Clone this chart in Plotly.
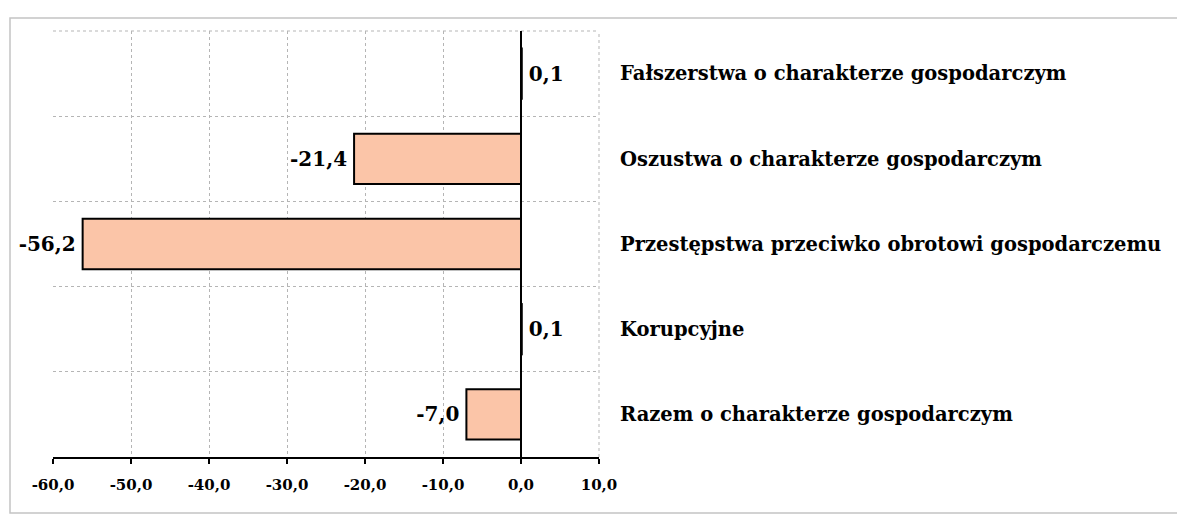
import plotly.graph_objects as go

categories = [
    "Razem o charakterze gospodarczym",
    "Korupcyjne",
    "Przestępstwa przeciwko obrotowi gospodarczemu",
    "Oszustwa o charakterze gospodarczym",
    "Fałszerstwa o charakterze gospodarczym",
]
values = [-7.0, 0.1, -56.2, -21.4, 0.1]
x_ticks = [-60, -50, -40, -30, -20, -10, 0, 10]

ypos = list(range(len(categories)))
labels = [("\u2009" + f"{v:.1f}".replace(".", ",")) if v >= 0
          else (f"{v:.1f}".replace(".", ",") + "\u2009") for v in values]
x_ticktext = [f"{v:.1f}".replace(".", ",") for v in x_ticks]

FONT = "DejaVu Serif"
# page body has an 8px margin, so figure coordinates = screen - 8
W, H = 1177, 510
L, R, T, B = 45, 591, 23, 449
pw, ph = R - L, B - T
GRID = "#b5b5b5"

fig = go.Figure()
fig.add_trace(go.Bar(
    x=values, y=ypos, orientation="h",
    width=0.59,
    marker=dict(color="#FBC5A8", line=dict(color="black", width=2)),
    text=labels, textposition="outside",
    textfont=dict(family=FONT, size=20, color="black", weight="bold"),
    cliponaxis=False,
))

fig.update_layout(
    width=W, height=H,
    margin=dict(l=L, r=W - R, t=T, b=H - B, autoexpand=False),
    paper_bgcolor="white", plot_bgcolor="white",
    separators=", ",
    showlegend=False,
    font=dict(family=FONT, color="black"),
    shapes=[
        dict(type="rect", xref="paper", yref="paper",
             x0=(2 - L) / pw, x1=(1174 - L) / pw,
             y0=(B - 505) / ph, y1=(B - 10) / ph,
             line=dict(color="#c4c4c4", width=1.5), layer="below"),
        dict(type="line", xref="paper", yref="paper", x0=0, x1=1, y0=1, y1=1,
             line=dict(color=GRID, width=1, dash="dot"), layer="below"),
        dict(type="line", xref="paper", yref="paper", x0=1, x1=1, y0=0, y1=1,
             line=dict(color=GRID, width=1, dash="dot"), layer="below"),
    ],
)
fig.update_xaxes(
    range=[-60, 10], tickvals=x_ticks, ticktext=x_ticktext,
    showgrid=True, gridcolor=GRID, griddash="dot", gridwidth=1,
    zeroline=True, zerolinecolor="black", zerolinewidth=1.5,
    showline=True, linecolor="black", linewidth=1.5,
    ticks="outside", ticklen=5, tickcolor="black", tickwidth=1.5,
    ticklabelstandoff=8, automargin=False,
    tickfont=dict(family=FONT, size=15, color="black", weight="bold"),
)
fig.update_yaxes(
    range=[-0.5, 4.5], tickvals=ypos, ticktext=categories,
    side="right", showgrid=False, zeroline=False, ticklabelstandoff=20,
    automargin=False,
    tickfont=dict(family=FONT, size=19.5, color="black", weight="bold"),
    minor=dict(tick0=0.5, dtick=1, showgrid=True, gridcolor=GRID, griddash="dot", gridwidth=1),
)
fig.write_html("out.html")
